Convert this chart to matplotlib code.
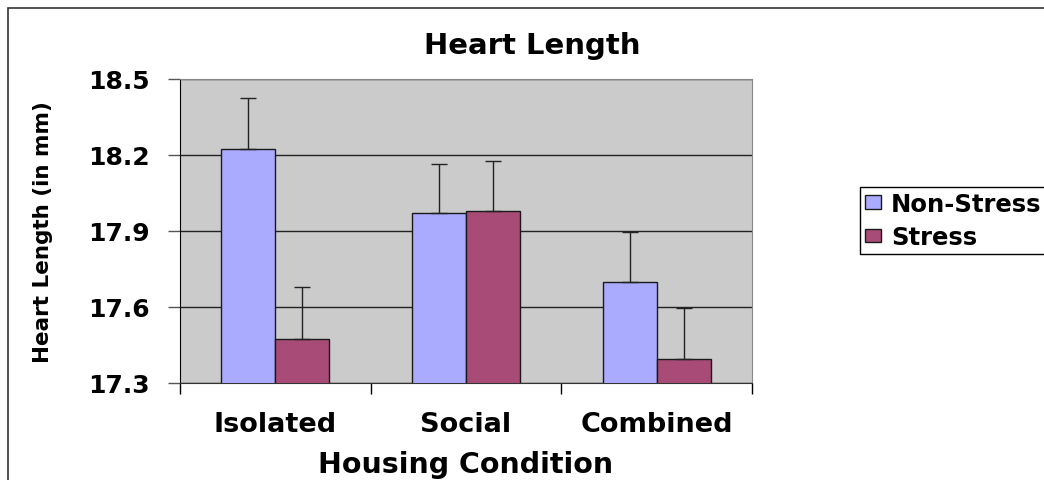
import matplotlib
matplotlib.use("Agg")
import matplotlib.pyplot as plt
from matplotlib.patches import Rectangle
import numpy as np

# data
conditions = ["Isolated", "Social", "Combined"]
non_stress = [18.225, 17.97, 17.70]
stress = [17.475, 17.98, 17.395]
non_stress_err = [0.20, 0.195, 0.195]
stress_err = [0.205, 0.195, 0.20]
y_ticks = [17.3, 17.6, 17.9, 18.2, 18.5]

plt.rcParams['font.family'] = ['DejaVu Sans']
plt.rcParams['font.weight'] = 'bold'

fig = plt.figure(figsize=(10.44, 4.81), dpi=100)
ax = fig.add_axes([180 / 1044, 1 - 384 / 481, 572 / 1044, 304 / 481])
ax.set_facecolor('#CBCBCB')

x = np.arange(len(conditions))
w = 0.283
ax.bar(x - w / 2, non_stress, w, color='#AAAAFF', edgecolor='#1a1a1a', linewidth=1, zorder=3,
       label='Non-Stress')
ax.bar(x + w / 2, stress, w, color='#A84B76', edgecolor='#1a1a1a', linewidth=1, zorder=3,
       label='Stress')
ax.errorbar(x - w / 2, non_stress, yerr=[np.zeros(3), non_stress_err], fmt='none',
            ecolor='#222222', elinewidth=1, capsize=5.5, capthick=1, zorder=4)
ax.errorbar(x + w / 2, stress, yerr=[np.zeros(3), stress_err], fmt='none',
            ecolor='#222222', elinewidth=1, capsize=5.5, capthick=1, zorder=4)

ax.set_ylim(17.3, 18.5)
ax.set_xlim(-0.5, 2.5)
ax.set_yticks(y_ticks)
ax.set_yticklabels([f"{v:.1f}" for v in y_ticks], fontsize=18, fontweight='bold')
ax.yaxis.grid(True, color='#222222', linewidth=1, zorder=1)
ax.set_axisbelow(True)

# category boundaries as ticks, names as minor labels
ax.set_xticks([-0.5, 0.5, 1.5, 2.5])
ax.set_xticklabels([])
ax.set_xticks(x, minor=True)
ax.set_xticklabels(conditions, minor=True, fontsize=19.5, fontweight='bold')
ax.tick_params(axis='x', which='major', direction='out', length=8, width=1)
ax.tick_params(axis='x', which='minor', length=0, pad=20)
ax.tick_params(axis='y', direction='out', length=9, width=1, color='#555555', pad=13)

for s in ['top', 'right']:
    ax.spines[s].set_color('#888888')
ax.spines['left'].set_color('black')
ax.spines['bottom'].set_color('#333333')

# title is centred over the whole chart area (legend included), as in the reference
fig.text(532 / 1044, 1 - 54 / 481, 'Heart Length', ha='center', va='baseline',
         fontsize=21, fontweight='bold')
ax.set_xlabel('Housing Condition', fontsize=20.5, fontweight='bold')
ax.xaxis.set_label_coords(0.5, -0.293)
ax.xaxis.label.set_va('baseline')
ax.set_ylabel('Heart Length (in mm)', fontsize=15.5, fontweight='bold')
ax.yaxis.set_label_coords(-0.2395, 0.5)
ax.yaxis.label.set_va('center')

# legend runs off the right edge of the picture, like the reference
leg = fig.legend(loc='upper left', bbox_to_anchor=(860 / 1044, 1 - 188 / 481),
                 prop={'size': 17.5, 'weight': 'bold'}, fancybox=False, framealpha=1,
                 edgecolor='black', handlelength=0.66, handleheight=0.5,
                 handletextpad=0.42, labelspacing=0.38, borderpad=0.2, borderaxespad=0)
leg.get_frame().set_linewidth(1)

# outer chart frame, running off the right and bottom edges
fig.patches.append(Rectangle((8 / 1044, -0.05), 1.1, 1.05 - 9 / 481, transform=fig.transFigure,
                             fill=False, edgecolor='#333333', linewidth=1.2))

fig.savefig('out.png', dpi=100)
